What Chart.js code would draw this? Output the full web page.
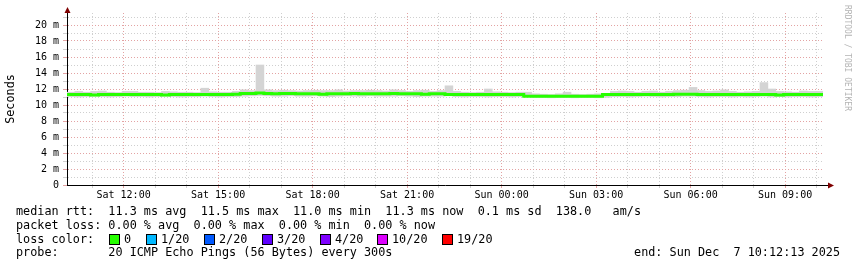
<!DOCTYPE html>
<html>
<head>
    <title>Median RTT</title>
    <style>
        body { margin: 0; background: #fff; }
        #wrap { position: relative; width: 857px; height: 267px; }
        .row {
            position: absolute;
            left: 16px;
            font: 11.8px "DejaVu Sans Mono", monospace;
            line-height: 14px;
            white-space: pre;
            color: #000;
        }
        .sw {
            position: absolute;
            width: 9px;
            height: 9px;
            border: 1px solid #000;
        }
    </style>
    <script src="https://cdn.jsdelivr.net/npm/chart.js"></script>
</head>
<body>
<div id="wrap">
    <canvas id="rtt" width="857" height="267"></canvas>
    <div id="legend"></div>
</div>

<script>
    // samples every 15 minutes, hours counted from Sat 00:00
    var firstSample = 10.329;
    var stepHours = 0.25;

    var median = [
        11.3, 11.3, 11.3, 11.3, 11.25, 11.3, 11.3, 11.3, 11.3, 11.3,
        11.3, 11.3, 11.3, 11.25, 11.3, 11.3, 11.3, 11.3, 11.3, 11.3,
        11.3, 11.3, 11.35, 11.45, 11.45, 11.5, 11.45, 11.4, 11.45, 11.45,
        11.4, 11.4, 11.4, 11.35, 11.4, 11.4, 11.4, 11.45, 11.4, 11.4,
        11.4, 11.4, 11.45, 11.4, 11.4, 11.4, 11.35, 11.4, 11.4, 11.3,
        11.3, 11.3, 11.3, 11.3, 11.3, 11.3, 11.3, 11.3, 11.3, 11.1,
        11.1, 11.1, 11.1, 11.1, 11.1, 11.1, 11.1, 11.1, 11.1, 11.3,
        11.3, 11.3, 11.3, 11.3, 11.3, 11.3, 11.3, 11.3, 11.35, 11.35,
        11.35, 11.3, 11.3, 11.3, 11.3, 11.3, 11.3, 11.3, 11.3, 11.3,
        11.3, 11.25, 11.3, 11.3, 11.3, 11.3
    ];

    var smokeLo = [
        11.05, 11.0, 11.05, 11.1, 11.05, 11.0, 11.05, 11.1, 11.05, 11.05,
        11.0, 11.05, 11.1, 11.05, 11.0, 11.05, 11.05, 11.1, 11.05, 11.0,
        11.05, 11.05, 11.1, 11.15, 11.2, 11.15, 11.1, 11.1, 11.15, 11.1,
        11.1, 11.15, 11.1, 11.05, 11.1, 11.15, 11.1, 11.1, 11.15, 11.1,
        11.1, 11.1, 11.15, 11.1, 11.05, 11.1, 11.1, 11.1, 11.15, 11.05,
        11.0, 11.05, 11.05, 11.0, 11.05, 11.05, 11.0, 11.05, 11.05, 10.95,
        10.95, 10.9, 10.95, 10.95, 10.9, 10.95, 10.95, 10.9, 10.95, 11.05,
        11.05, 11.0, 11.05, 11.1, 11.05, 11.0, 11.05, 11.05, 11.1, 11.1,
        11.05, 11.0, 11.05, 11.05, 11.0, 11.05, 11.0, 11.05, 11.1, 11.0,
        11.05, 11.0, 11.05, 11.05, 11.0, 11.05
    ];

    var smokeHi = [
        11.6, 11.7, 11.6, 11.7, 11.75, 11.6, 11.55, 11.7, 11.7, 11.6,
        11.6, 11.55, 11.7, 11.65, 11.6, 11.6, 11.55, 12.1, 11.65, 11.6,
        11.6, 11.7, 11.9, 11.8, 15.0, 11.9, 11.8, 11.85, 11.8, 11.75,
        11.8, 11.85, 11.8, 11.8, 11.9, 11.75, 11.8, 11.8, 11.85, 11.8,
        11.75, 11.9, 11.8, 11.7, 11.8, 11.85, 11.7, 11.8, 12.4, 11.7,
        11.6, 11.55, 11.6, 12.0, 11.65, 11.6, 11.55, 11.6, 11.6, 11.4,
        11.35, 11.3, 11.4, 11.6, 11.35, 11.3, 11.35, 11.4, 11.45, 11.7,
        11.75, 11.7, 11.6, 11.7, 11.75, 11.6, 11.7, 11.8, 11.85, 12.2,
        11.8, 11.7, 11.75, 11.9, 11.7, 11.6, 11.65, 11.7, 12.8, 12.0,
        11.7, 11.65, 11.6, 11.75, 11.7, 11.7
    ];

    var statRows = [
        'median rtt:  11.3 ms avg  11.5 ms max  11.0 ms min  11.3 ms now  0.1 ms sd  138.0   am/s',
        'packet loss: 0.00 % avg  0.00 % max  0.00 % min  0.00 % now'
    ];
    var lossLabels = ['0', '1/20', '2/20', '3/20', '4/20', '10/20', '19/20'];
    var lossColors = ['#26ff00', '#00b8ff', '#0059ff', '#5e00ff', '#7e00ff', '#dd00ff', '#ff0000'];
    var lossX = [109, 146, 204, 262, 320, 377, 442];
    var probeText = 'probe:       20 ICMP Echo Pings (56 Bytes) every 300s';
    var endText = 'end: Sun Dec  7 10:12:13 2025';

    // legend rows under the graph
    var legend = document.getElementById('legend');
    function addRow(text, top, left) {
        var d = document.createElement('div');
        d.className = 'row';
        d.style.top = top + 'px';
        if (left !== undefined) d.style.left = left + 'px';
        d.textContent = text;
        legend.appendChild(d);
        return d;
    }
    addRow(statRows[0], 204);
    addRow(statRows[1], 218);
    addRow('loss color:', 232);
    lossLabels.forEach(function(l, i) {
        var s = document.createElement('div');
        s.className = 'sw';
        s.style.left = lossX[i] + 'px';
        s.style.top = '234px';
        s.style.background = lossColors[i];
        legend.appendChild(s);
        addRow(l, 232, lossX[i] + 15);
    });
    addRow(probeText, 245);
    var endRow = addRow(endText, 245);
    endRow.style.left = 'auto';
    endRow.style.right = '17px';

    var smoke = [];
    var medianPts = [];
    median.forEach(function(m, i) {
        var t = firstSample + i * stepHours;
        smoke.push({x: t, y: [smokeLo[i], smokeHi[i]]});
        medianPts.push({x: t - stepHours / 2, y: m});
    });
    medianPts.push({x: firstSample + (median.length - 0.5) * stepHours, y: median[median.length - 1]});

    var majorColor = '#e3a3a3';
    var minorColor = '#cfcfcf';
    var mono = '"DejaVu Sans Mono", monospace';

    var rrdFrame = {
        id: 'rrdFrame',
        afterDraw: function(chart) {
            var c = chart.ctx, a = chart.chartArea;
            c.save();
            c.strokeStyle = '#000';
            c.lineWidth = 1;
            c.beginPath();
            c.moveTo(a.right, a.bottom + 0.5);
            c.lineTo(a.right + 6, a.bottom + 0.5);
            c.moveTo(a.left + 0.5, a.top);
            c.lineTo(a.left + 0.5, a.top - 4);
            c.stroke();
            c.fillStyle = '#7f0000';
            c.beginPath();
            c.moveTo(a.right + 11, a.bottom + 0.5);
            c.lineTo(a.right + 5, a.bottom - 2.5);
            c.lineTo(a.right + 5, a.bottom + 3.5);
            c.closePath();
            c.fill();
            c.beginPath();
            c.moveTo(a.left + 0.5, a.top - 6);
            c.lineTo(a.left - 2.5, a.top);
            c.lineTo(a.left + 3.5, a.top);
            c.closePath();
            c.fill();
            // watermark
            c.translate(847, 5);
            c.rotate(Math.PI / 2);
            c.font = '8px ' + mono;
            c.fillStyle = '#b4b4b4';
            c.textBaseline = 'middle';
            c.fillText('RRDTOOL / TOBI OETIKER', 0, 0);
            c.restore();
        }
    };

    var ctx = document.getElementById('rtt').getContext('2d');
    var chart = new Chart(ctx, {
        data: {
            datasets: [{
                type: 'bar',
                label: 'smoke',
                data: smoke,
                backgroundColor: '#d4d4d4',
                barPercentage: 1,
                categoryPercentage: 1,
                grouped: false,
                order: 2
            }, {
                type: 'line',
                label: 'median rtt',
                data: medianPts,
                borderColor: '#26ff00',
                borderWidth: 3,
                pointRadius: 0,
                stepped: 'after',
                order: 1
            }]
        },
        options: {
            responsive: false,
            animation: false,
            layout: { padding: { left: 0, right: 34, top: 13, bottom: 0 } },
            plugins: { legend: { display: false }, tooltip: { enabled: false } },
            scales: {
                x: {
                    type: 'linear',
                    offset: false,
                    min: 10.204,
                    max: 34.204,
                    afterBuildTicks: function(scale) {
                        var t = [];
                        for (var h = 11; h <= 34; h++) t.push({value: h});
                        scale.ticks = t;
                    },
                    afterFit: function(scale) { scale.height = 82; },
                    ticks: {
                        autoSkip: false,
                        maxRotation: 0,
                        padding: 1,
                        color: '#000',
                        font: { family: mono, size: 10 },
                        callback: function(v) {
                            if (v % 3 !== 0) return '';
                            var h = v % 24;
                            return (v < 24 ? 'Sat ' : 'Sun ') + (h < 10 ? '0' : '') + h + ':00';
                        }
                    },
                    grid: {
                        offset: false,
                        color: function(c) { return c.tick && c.tick.value % 3 === 0 ? majorColor : minorColor; },
                        tickLength: 3
                    },
                    border: { color: '#000', width: 1, dash: [1, 2] }
                },
                y: {
                    min: 0,
                    max: 21.5,
                    afterBuildTicks: function(scale) {
                        var t = [];
                        for (var v = 0; v <= 21; v++) t.push({value: v});
                        scale.ticks = t;
                    },
                    afterFit: function(scale) { scale.width = 67; },
                    ticks: {
                        autoSkip: false,
                        padding: 4,
                        color: '#000',
                        font: { family: mono, size: 10 },
                        callback: function(v) {
                            if (v % 2 !== 0) return '';
                            return v === 0 ? '0' : v + ' m';
                        }
                    },
                    grid: {
                        color: function(c) { return c.tick && c.tick.value % 2 === 0 ? majorColor : minorColor; },
                        tickLength: 4
                    },
                    border: { color: '#000', width: 1, dash: [1, 2] },
                    title: {
                        display: true,
                        text: 'Seconds',
                        color: '#000',
                        font: { family: mono, size: 11.8 },
                        padding: { top: 4, bottom: 0 }
                    }
                }
            }
        },
        plugins: [rrdFrame]
    });
</script>
</body>
</html>
